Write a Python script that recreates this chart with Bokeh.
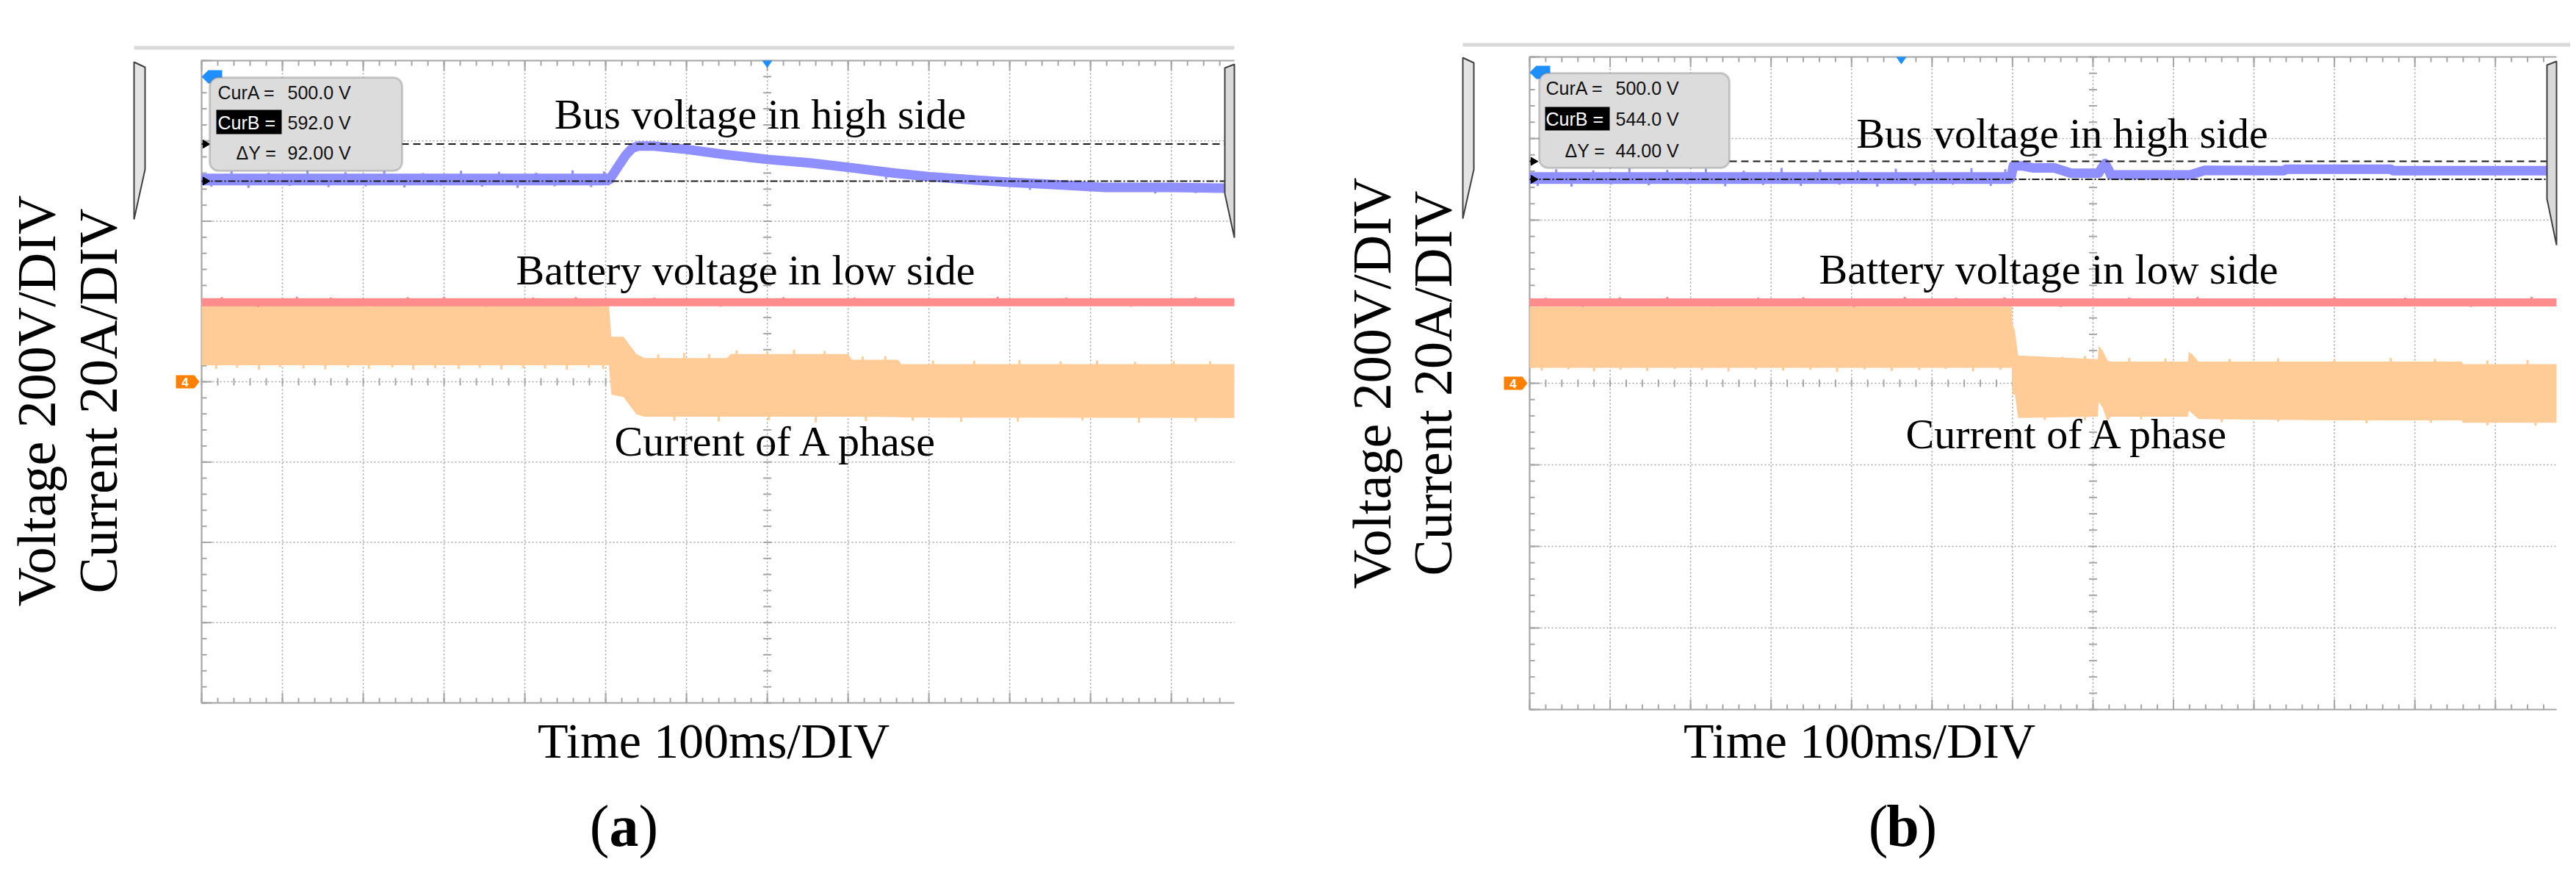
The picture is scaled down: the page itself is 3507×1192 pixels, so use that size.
import numpy as np
from bokeh.plotting import figure
from bokeh.layouts import row
from bokeh.models import Range1d, Label, BoxAnnotation, PolyAnnotation
from bokeh.embed import file_html
from bokeh.resources import INLINE

# ---------------- scope settings ----------------
volt_per_div = 200     # V/div
amp_per_div = 20       # A/div
ms_per_div = 100       # ms/div
n_vdiv = 8
center_div = 7

# ---------------- panel (a) data ----------------
a_t_end = 1278
a_step_ms = 505
a_cursor_a = 500.0
a_cursor_b = 592.0

a_bus_t = [0, 505, 515, 525, 533, 540, 560, 596, 648, 700, 753, 805, 857, 900, 960, 1000, 1065, 1118, 1200, 1278]
a_bus_v = [504, 504, 535, 565, 582, 587, 587, 580, 566, 554, 545, 533, 520, 511, 502, 497, 490, 484, 484, 482]
a_bus_spk_t = [12, 37, 58, 83, 109, 131, 157, 178, 203, 226, 251, 274, 296, 321, 347, 368, 391, 414, 437, 459, 482, 498, 847, 1025, 1180, 1230]
a_bus_spk_tip = [486, 524, 483, 521, 488, 527, 485, 522, 487, 525, 484, 520, 489, 526, 486, 523, 483, 521, 487, 527, 485, 524, 505, 478, 469, 470]

a_bat_t = [0, 1278]
a_bat_v = [198, 198]
a_bat_spk_t = [25, 70, 118, 160, 214, 255, 300, 352, 410, 463, 560, 642, 720, 808, 896, 985, 1070, 1150, 1230]
a_bat_spk_tip = [211, 186, 212, 210, 188, 211, 212, 187, 210, 211, 210, 187, 211, 210, 188, 212, 210, 187, 211]

a_cur_t = [0, 504, 507, 522, 538, 548, 650, 655, 800, 805, 862, 866, 1278]
a_cur_hi = [19.4, 19.4, 11.2, 11.2, 6.9, 5.9, 5.9, 6.9, 6.9, 5.5, 5.5, 4.4, 4.4]
a_cur_lo = [4.1, 4.1, -3.2, -3.8, -8.1, -8.7, -8.7, -8.7, -8.7, -8.7, -8.8, -8.9, -9.0]
a_cur_dn_t = [18, 44, 71, 97, 126, 153, 181, 207, 236, 262, 289, 318, 344, 371, 398, 425, 452, 479, 497,
              585, 640, 702, 760, 822, 880, 940, 1010, 1090, 1160, 1230]
a_cur_dn_tip = [3.2, 3.5, 3.0, 3.6, 3.3, 3.1, 3.5, 3.2, 3.6, 3.0, 3.4, 3.2, 3.5, 3.1, 3.4, 3.3, 3.0, 3.5, 3.2,
                -9.7, -9.9, -9.6, -10.1, -9.8, -9.7, -10.0, -9.9, -9.6, -10.2, -9.8]
a_cur_up_t = [565, 597, 628, 662, 700, 733, 771, 818, 846, 905, 956, 1012, 1063, 1108, 1155, 1203, 1248]
a_cur_up_tip = [6.8, 7.2, 6.9, 7.8, 7.6, 8.0, 7.7, 6.3, 6.4, 5.3, 5.2, 5.4, 5.1, 5.3, 5.0, 5.2, 5.1]

# ---------------- panel (b) data ----------------
b_t_end = 1276
b_step_ms = 600
b_cursor_a = 500.0
b_cursor_b = 544.0

b_bus_t = [0, 598, 601, 612, 625, 652, 673, 707, 711, 715, 719, 722, 821, 839, 937, 940, 1070, 1073, 1276]
b_bus_v = [503, 503, 533, 533, 528, 528, 515, 515, 528, 539, 525, 511, 511, 522, 521, 525, 525, 521, 521]
b_bus_spk_t = [10, 33, 52, 79, 101, 124, 148, 171, 196, 219, 243, 266, 290, 313, 337, 361, 385, 408, 432, 455, 479, 502, 526, 549, 573, 591]
b_bus_spk_tip = [484, 525, 482, 522, 487, 527, 485, 523, 488, 526, 483, 521, 486, 528, 484, 524, 487, 522, 482, 526, 485, 523, 487, 527, 484, 525]

b_bat_t = [0, 1276]
b_bat_v = [198, 198]
b_bat_spk_t = [20, 66, 112, 171, 228, 284, 340, 403, 466, 530, 590, 660, 745, 830, 915, 1000, 1088, 1170, 1245]
b_bat_spk_tip = [210, 187, 211, 212, 188, 210, 211, 186, 212, 210, 211, 187, 210, 212, 188, 211, 210, 187, 212]

b_cur_t = [0, 599, 600, 603, 607, 706, 707, 712, 718, 722, 818, 819, 824, 831, 1005, 1158, 1160, 1276]
b_cur_hi = [18.8, 18.8, 14.6, 12.8, 6.8, 5.9, 9.2, 8.0, 5.6, 5.3, 5.3, 7.7, 7.0, 5.3, 5.3, 5.3, 4.7, 4.7]
b_cur_lo = [3.8, 3.8, -2.8, -2.8, -8.5, -8.2, -4.6, -6.0, -9.4, -8.2, -8.2, -6.7, -7.5, -8.8, -9.1, -9.1, -9.7, -9.7]
b_cur_dn_t = [15, 48, 80, 113, 146, 180, 214, 247, 281, 315, 349, 382, 416, 450, 484, 517, 551, 585,
              640, 690, 760, 860, 930, 1040, 1120, 1190, 1250]
b_cur_dn_tip = [3.1, 3.4, 2.9, 3.3, 3.0, 3.5, 3.2, 2.9, 3.4, 3.1, 3.3, 2.8, 3.4, 3.0, 3.2, 3.5, 2.9, 3.3,
                -9.0, -9.1, -8.9, -9.6, -9.4, -9.8, -9.7, -10.3, -10.4]
b_cur_up_t = [626, 662, 690, 745, 790, 870, 930, 1000, 1070, 1125, 1190, 1240]
b_cur_up_tip = [6.6, 6.5, 6.7, 6.2, 6.1, 6.0, 6.1, 5.9, 6.2, 6.0, 5.6, 5.7]

# ---------------- texts ----------------
lbl_bus = "Bus voltage in high side"
lbl_bat = "Battery voltage in low side"
lbl_cur = "Current of A phase"
lbl_time = "Time 100ms/DIV"
lbl_volt = "Voltage 200V/DIV"
lbl_amp = "Current 20A/DIV"

# ---------------- styling / layout (pixels) ----------------
GRAY = "#a6a6a6"
BLUE = "#8f8fff"
RED = "#ff8c8c"
ORANGE = "#ffcb97"
SERIF = "Liberation Serif"
SANS = "Liberation Sans"
MID = 0.3375   # baseline -> middle offset (em) for Liberation fonts
FIG_H = 1184

GEO_A = dict(fx0=0, fw=1800, L=274, T=82, W=1406, H=874)
GEO_B = dict(fx0=1800, fw=1699, L=2082, T=77, W=1398, H=888)

LAY_A = dict(bus=(1034.5, 175), bat=(1014.5, 387), cur=(1057.5, 620),
             time=(971, 1030), volt=(74, 545), amp=(158, 545), tag=(849, 1150), tagtxt="a",
             box=(285, 547, 105, 232), hl=(294, 383, 149, 182),
             rows=[(296, 391, 134), (296, 391, 175), (321, 391, 216)],
             trig=(1044, 82), chan4=(239, 519), tmark=(274, 95),
             topbar=(182, 1680, 62, 67),
             lbez=[(182, 84), (197, 91), (197, 230), (182, 298)],
             rbez=[(1667, 92), (1680, 87), (1680, 323), (1667, 263)])
LAY_B = dict(bus=(2807, 201), bat=(2788.5, 386), cur=(2815.5, 610),
             time=(2531, 1030), volt=(1892, 521), amp=(1975, 521), tag=(2590, 1150), tagtxt="b",
             box=(2095, 2354, 99, 228), hl=(2103, 2191, 145, 177),
             rows=[(2104, 2199, 128), (2104, 2199, 170), (2130, 2199, 213)],
             trig=(2588, 77), chan4=(2047, 521), tmark=(2082, 89),
             topbar=(1991, 3499, 58, 63),
             lbez=[(1991, 78), (2006, 85), (2006, 230), (1991, 297)],
             rbez=[(3467, 88), (3480, 83), (3480, 333), (3467, 270)])


def build(g, lay, d):
    L, T, W, H, fx0, fw = g["L"], g["T"], g["W"], g["H"], g["fx0"], g["fw"]
    t_end = d["t_end"]
    vmax = volt_per_div * n_vdiv / 2
    a_per_v = amp_per_div / volt_per_div
    kx = W / t_end            # px per ms
    ky = H / (2 * vmax)       # px per V

    def X(px):
        return (px - L) / kx

    def Y(py):
        return vmax - (py - T) / ky

    p = figure(width=fw, height=FIG_H,
               x_range=Range1d(X(fx0), X(fx0 + fw)), y_range=Range1d(Y(FIG_H), Y(0)),
               x_axis_type=None, y_axis_type=None, title=None,
               toolbar_location=None, output_backend="svg", min_border=0)
    p.outline_line_color = None
    p.extra_y_ranges = {"amps": Range1d(Y(FIG_H) * a_per_v, Y(0) * a_per_v)}

    # ---- graticule ----
    xg = np.arange(ms_per_div, t_end, ms_per_div).tolist()
    yg = np.arange(-vmax + volt_per_div, vmax, volt_per_div).tolist()
    p.segment(x0=xg, y0=-vmax, x1=xg, y1=vmax, line_color=GRAY, line_width=1.6, line_dash="2 3")
    p.segment(x0=0, y0=yg, x1=t_end, y1=yg, line_color=GRAY, line_width=1.6, line_dash="2 3")

    xmaj = np.arange(0, t_end + 1, ms_per_div).tolist()
    xmin = np.arange(0, t_end + 1, ms_per_div / 5).tolist()
    ymaj = np.arange(-vmax, vmax + 1, volt_per_div).tolist()
    ymin = np.arange(-vmax, vmax + 1, volt_per_div / 5).tolist()
    for ticks, ln in ((xmin, 7), (xmaj, 14)):
        p.segment(x0=ticks, y0=-vmax, x1=ticks, y1=-vmax + ln / ky, line_color=GRAY, line_width=2)
        p.segment(x0=ticks, y0=vmax, x1=ticks, y1=vmax - ln / ky, line_color=GRAY, line_width=2)
    for ticks, ln in ((ymin, 7), (ymaj, 14)):
        p.segment(x0=0, y0=ticks, x1=ln / kx, y1=ticks, line_color=GRAY, line_width=2)
    # frame edges (left / top / bottom; right side cut by the screen bezel)
    p.line([t_end, 0, 0, t_end], [vmax, vmax, -vmax, -vmax], line_color=GRAY, line_width=2.2)

    # center-line ticks
    p.scatter(x=xmin, y=[0] * len(xmin), marker="dash", angle=np.pi / 2, size=10,
              line_color=GRAY, line_width=2)
    p.scatter(x=[center_div * ms_per_div] * len(ymin), y=ymin, marker="dash", size=11,
              line_color=GRAY, line_width=2)

    # ---- current of A phase (ripple envelope) ----
    p.varea(x=d["cur_t"], y1=d["cur_lo"], y2=d["cur_hi"], fill_color=ORANGE, y_range_name="amps")
    base_dn = np.interp(d["cur_dn_t"], d["cur_t"], d["cur_lo"]) + 0.3
    p.segment(x0=d["cur_dn_t"], y0=base_dn.tolist(), x1=d["cur_dn_t"], y1=d["cur_dn_tip"],
              line_color=ORANGE, line_width=3, y_range_name="amps")
    base_up = np.interp(d["cur_up_t"], d["cur_t"], d["cur_hi"]) - 0.3
    p.segment(x0=d["cur_up_t"], y0=base_up.tolist(), x1=d["cur_up_t"], y1=d["cur_up_tip"],
              line_color=ORANGE, line_width=3, y_range_name="amps")

    # ---- battery voltage ----
    p.line(d["bat_t"], d["bat_v"], line_color=RED, line_width=11)
    base_b = np.interp(d["bat_spk_t"], d["bat_t"], d["bat_v"])
    p.segment(x0=d["bat_spk_t"], y0=base_b.tolist(), x1=d["bat_spk_t"], y1=d["bat_spk_tip"],
              line_color=RED, line_width=3)

    # ---- bus voltage ----
    bt = np.array(d["bus_t"])
    bv = np.array(d["bus_v"])
    pre = bt <= d["step"]
    p.line(bt[pre].tolist(), bv[pre].tolist(), line_color=BLUE, line_width=16)
    p.line(d["bus_t"], d["bus_v"], line_color=BLUE, line_width=13, line_join="round")
    base_v = np.interp(d["bus_spk_t"], d["bus_t"], d["bus_v"])
    p.segment(x0=d["bus_spk_t"], y0=base_v.tolist(), x1=d["bus_spk_t"], y1=d["bus_spk_tip"],
              line_color=BLUE, line_width=3)

    # ---- cursors ----
    p.segment(x0=0, y0=[d["cur_a"]], x1=t_end, y1=[d["cur_a"]], line_color="#1a1a1a",
              line_width=2, line_dash="10 3 2 3")
    p.segment(x0=0, y0=[d["cur_b"]], x1=t_end, y1=[d["cur_b"]], line_color="#1a1a1a",
              line_width=2, line_dash="10 6")
    p.scatter(x=[5 / kx] * 2, y=[d["cur_a"], d["cur_b"]], marker="triangle", angle=-np.pi / 2,
              size=11, fill_color="black", line_color="black")

    def poly(pts, fill, line=None, lw=0):
        p.add_layout(PolyAnnotation(xs=[X(a) for a, _ in pts], ys=[Y(b) for _, b in pts],
                                    fill_color=fill, fill_alpha=1.0,
                                    line_color=line if line else fill, line_width=lw,
                                    line_alpha=1.0 if line else 0.0))

    def label(px, py, txt, font, size, **kw):
        p.add_layout(Label(x=X(px), y=Y(py - MID * size), text=txt, text_font=font,
                           text_font_size=f"{size}px", text_baseline="middle", **kw))

    # ---- scope window chrome ----
    x0, x1, y0, y1 = lay["topbar"]
    poly([(x0, y0), (x1, y0), (x1, y1), (x0, y1)], "#d9d9d9")
    poly(lay["lbez"], "#e4e4e4", "#404040", 2)
    poly(lay["rbez"], "#dadada", "#404040", 2)

    # trigger markers
    tx, ty = lay["trig"]
    poly([(tx - 7, ty), (tx + 7, ty), (tx, ty + 10)], "#1e8fff")
    mx, my = lay["tmark"]
    poly([(mx, my + 9), (mx + 9, my), (mx + 28, my), (mx + 28, my + 18), (mx + 9, my + 18)], "#1e8fff")

    # channel 4 ground marker
    cx, cy = lay["chan4"]
    poly([(cx, cy - 9), (cx + 25, cy - 9), (cx + 32, cy), (cx + 25, cy + 9), (cx, cy + 9)], "#ff8000")
    p.add_layout(Label(x=X(cx + 12.5), y=Y(cy), text="4", text_color="white", text_font=SANS,
                       text_font_size="17px", text_font_style="bold", text_align="center",
                       text_baseline="middle"))

    # ---- cursor readout box ----
    bl, br, btp, bbt = lay["box"]
    p.add_layout(BoxAnnotation(left=X(bl), right=X(br), top=Y(btp), bottom=Y(bbt),
                               fill_color="#dcdcdc", fill_alpha=1.0, line_color="#6a6a6a",
                               line_width=3, border_radius=12))
    hl, hr, ht, hb = lay["hl"]
    p.add_layout(BoxAnnotation(left=X(hl), right=X(hr), top=Y(ht), bottom=Y(hb),
                               fill_color="black", fill_alpha=1.0, line_alpha=0))
    names = ["CurA =", "CurB =", "\u0394Y ="]
    vals = [f"{d['cur_a']:.1f} V", f"{d['cur_b']:.1f} V", f"{d['cur_b'] - d['cur_a']:.2f} V"]
    for i, (nx, vx, by) in enumerate(lay["rows"]):
        label(nx, by, names[i], SANS, 25, text_color="white" if i == 1 else "#111111")
        label(vx, by, vals[i], SANS, 25, text_color="#111111")

    # ---- trace annotations ----
    for key, txt in (("bus", lbl_bus), ("bat", lbl_bat), ("cur", lbl_cur)):
        lx, ly = lay[key]
        label(lx, ly, txt, SERIF, 58, text_align="center", text_color="black")

    # ---- axis titles ----
    lx, ly = lay["time"]
    label(lx, ly, lbl_time, SERIF, 68, text_align="center", text_color="black")
    for key, txt in (("volt", lbl_volt), ("amp", lbl_amp)):
        lx, ly = lay[key]
        fs = 74
        p.add_layout(Label(x=X(lx - MID * fs), y=Y(ly), text=txt, text_font=SERIF,
                           text_font_size=f"{fs}px", angle=np.pi / 2, text_align="center",
                           text_baseline="middle", text_color="black"))

    # ---- panel tag "(a)" / "(b)" ----
    gx, gy = lay["tag"]
    fs = 80
    for off, txt, sty in ((-(0.25 + 0.1665) * fs, "(", "normal"), (0, lay["tagtxt"], "bold"),
                          ((0.25 + 0.1665) * fs, ")", "normal")):
        label(gx + off, gy, txt, SERIF, fs, text_font_style=sty, text_align="center",
              text_color="black")
    return p


data_a = dict(t_end=a_t_end, step=a_step_ms, cur_a=a_cursor_a, cur_b=a_cursor_b,
              bus_t=a_bus_t, bus_v=a_bus_v, bus_spk_t=a_bus_spk_t, bus_spk_tip=a_bus_spk_tip,
              bat_t=a_bat_t, bat_v=a_bat_v, bat_spk_t=a_bat_spk_t, bat_spk_tip=a_bat_spk_tip,
              cur_t=a_cur_t, cur_hi=a_cur_hi, cur_lo=a_cur_lo,
              cur_dn_t=a_cur_dn_t, cur_dn_tip=a_cur_dn_tip, cur_up_t=a_cur_up_t, cur_up_tip=a_cur_up_tip)
data_b = dict(t_end=b_t_end, step=b_step_ms, cur_a=b_cursor_a, cur_b=b_cursor_b,
              bus_t=b_bus_t, bus_v=b_bus_v, bus_spk_t=b_bus_spk_t, bus_spk_tip=b_bus_spk_tip,
              bat_t=b_bat_t, bat_v=b_bat_v, bat_spk_t=b_bat_spk_t, bat_spk_tip=b_bat_spk_tip,
              cur_t=b_cur_t, cur_hi=b_cur_hi, cur_lo=b_cur_lo,
              cur_dn_t=b_cur_dn_t, cur_dn_tip=b_cur_dn_tip, cur_up_t=b_cur_up_t, cur_up_tip=b_cur_up_tip)

pa = build(GEO_A, LAY_A, data_a)
pb = build(GEO_B, LAY_B, data_b)
layout = row(pa, pb)

open("out.html", "w").write(file_html(layout, INLINE))
